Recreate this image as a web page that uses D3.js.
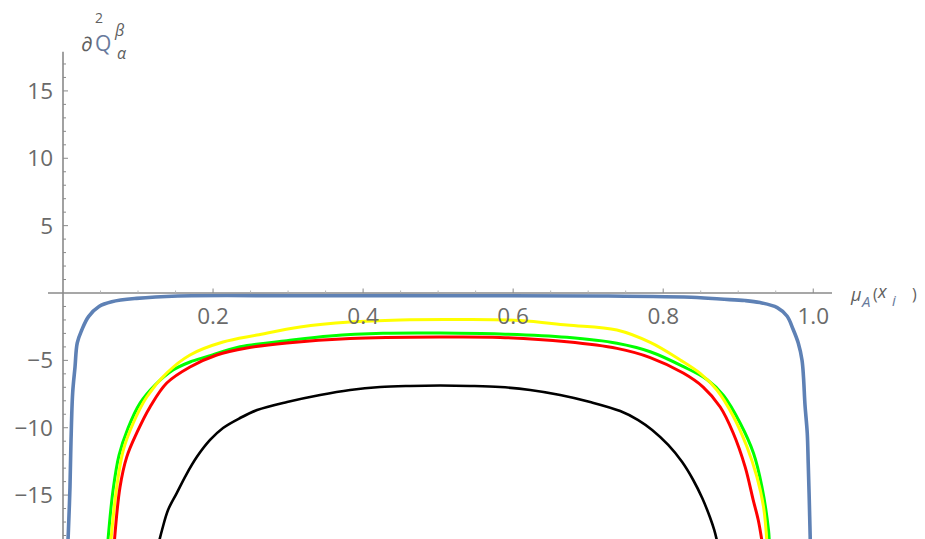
<!DOCTYPE html>
<html>
<head>
<meta charset="utf-8">
<script src="https://cdn.jsdelivr.net/npm/d3@7"></script>
<style>
  html, body { margin: 0; padding: 0; background: #fff; }
  svg { display: block; }
  .tick-label { font-family: "Open Sans", sans-serif; font-size: 22.5px; fill: #6a6a6a; }
  .axis-label { font-family: "Open Sans", sans-serif; fill: #606060; }
</style>
</head>
<body>
<svg id="chart" width="925" height="539"></svg>
<script>
// Curve samples: [membership value, second derivative]
const blueCurve = [
  [0.0067, -18.3], [0.0071, -17.8], [0.0093, -14.4], [0.0107, -10.9], [0.0129, -7.4],
  [0.016, -5.5], [0.019, -3.7], [0.025, -2.75], [0.034, -1.75], [0.048, -1.0],
  [0.065, -0.65], [0.098, -0.4], [0.153, -0.22], [0.316, -0.2], [0.516, -0.2],
  [0.716, -0.22], [0.845, -0.33], [0.876, -0.45], [0.909, -0.56], [0.929, -0.71],
  [0.952, -1.08], [0.965, -1.71], [0.973, -2.67], [0.98, -3.71], [0.985, -4.97],
  [0.987, -6.24], [0.989, -8.31], [0.992, -10.39], [0.9933, -12.62], [0.9947, -15.37],
  [0.996, -18.3]
];

const yellowCurve = [
  [0.064, -18.3], [0.0716, -14.4], [0.0804, -11.66], [0.0937, -9.65], [0.1116, -7.72],
  [0.1383, -5.94], [0.1693, -4.6], [0.2133, -3.64], [0.2587, -3.12], [0.316, -2.52],
  [0.3827, -2.15], [0.4493, -2.0], [0.5293, -1.97], [0.6093, -2.04], [0.6716, -2.38],
  [0.7383, -2.75], [0.7827, -3.67], [0.8227, -4.97], [0.8493, -5.97], [0.8716, -7.2],
  [0.8937, -9.18], [0.9116, -11.41], [0.9249, -13.64], [0.9337, -15.86], [0.938, -18.3]
];

const greenCurve = [
  [0.06, -18.3], [0.0667, -14.63], [0.0747, -12.03], [0.0867, -10.02], [0.1027, -8.17],
  [0.1227, -6.83], [0.1467, -5.72], [0.1693, -5.12], [0.1916, -4.73], [0.236, -3.99],
  [0.2983, -3.54], [0.356, -3.19], [0.4267, -2.99], [0.5027, -2.97], [0.5827, -3.04],
  [0.6716, -3.29], [0.7383, -3.73], [0.7827, -4.36], [0.8271, -5.47], [0.8583, -6.42],
  [0.8804, -7.61], [0.9027, -9.67], [0.9204, -11.9], [0.9316, -14.38], [0.9404, -17.6],
  [0.9413, -18.3]
];

const redCurve = [
  [0.0687, -18.3], [0.076, -14.4], [0.0849, -12.18], [0.0983, -10.39], [0.116, -8.46],
  [0.1383, -6.68], [0.1693, -5.49], [0.2049, -4.6], [0.2449, -4.08], [0.2983, -3.71],
  [0.3827, -3.38], [0.5027, -3.27], [0.5827, -3.3], [0.6716, -3.62], [0.7383, -4.11],
  [0.7827, -4.79], [0.8267, -5.94], [0.8533, -6.98], [0.876, -8.46], [0.8933, -10.39],
  [0.9093, -12.92], [0.92, -15.37], [0.9267, -16.85], [0.9313, -18.3]
];

const blackCurve = [
  [0.1287, -18.3], [0.132, -17.59], [0.14, -16.11], [0.1516, -14.85], [0.164, -13.51],
  [0.1783, -12.18], [0.196, -10.91], [0.2133, -10.02], [0.236, -9.28], [0.2587, -8.69],
  [0.2987, -8.09], [0.3427, -7.57], [0.3827, -7.2], [0.4227, -6.98], [0.4627, -6.9],
  [0.5027, -6.87], [0.5427, -6.9], [0.5827, -6.98], [0.6227, -7.2], [0.6627, -7.57],
  [0.7027, -8.09], [0.7427, -8.76], [0.7667, -9.43], [0.7853, -10.17], [0.8067, -11.28],
  [0.8253, -12.55], [0.84, -13.88], [0.852, -15.22], [0.8627, -16.7], [0.868, -17.59],
  [0.8713, -18.3]
];

const xTickValues = [0.2, 0.4, 0.6, 0.8, 1.0];
const xTickLabels = ["0.2", "0.4", "0.6", "0.8", "1.0"];
const yTickValues = [-15, -10, -5, 5, 10, 15];
const yTickLabels = ["\u221215", "\u221210", "\u22125", "5", "10", "15"];

const seriesList = [
  { data: blueCurve,   color: "#5e81b5", width: 3.6 },
  { data: yellowCurve, color: "#ffff00", width: 3 },
  { data: greenCurve,  color: "#00ff00", width: 3 },
  { data: redCurve,    color: "#ff0000", width: 3 },
  { data: blackCurve,  color: "#000000", width: 2.6 }
];
// green goes under yellow so the yellow crest stays on top
const drawOrder = [0, 2, 1, 3, 4];

const svg = d3.select("#chart");
const x = d3.scaleLinear().domain([-0.02, 1.025]).range([48, 832]);
const y = d3.scaleLinear().domain([-18.2, 18]).range([538.2, 50.5]);

const axisColor = "#8a8a8a";

svg.append("clipPath").attr("id", "plot-clip")
  .append("rect").attr("x", 48).attr("y", 40).attr("width", 800).attr("height", 499);

// curves
const line = d3.line()
  .x(d => x(d[0]))
  .y(d => y(d[1]))
  .curve(d3.curveCatmullRom.alpha(0.5));

const curves = svg.append("g").attr("clip-path", "url(#plot-clip)");
drawOrder.forEach(i => {
  const s = seriesList[i];
  curves.append("path")
    .datum(s.data)
    .attr("fill", "none")
    .attr("stroke", s.color)
    .attr("stroke-width", s.width)
    .attr("stroke-linejoin", "round")
    .attr("d", line);
});

// axis lines
const axes = svg.append("g");
axes.append("line")
  .attr("x1", x(-0.02)).attr("x2", x(1.025))
  .attr("y1", y(0)).attr("y2", y(0))
  .attr("stroke", axisColor).attr("stroke-width", 1.6);
axes.append("line")
  .attr("x1", x(0)).attr("x2", x(0))
  .attr("y1", y(17.9)).attr("y2", 539)
  .attr("stroke", axisColor).attr("stroke-width", 1.6);

// x ticks
const xMinor = d3.range(1, 21).map(i => i * 0.05).filter(v => !xTickValues.some(t => Math.abs(t - v) < 1e-6));
axes.selectAll(".xminor").data(xMinor).join("line")
  .attr("x1", d => x(d)).attr("x2", d => x(d))
  .attr("y1", y(0)).attr("y2", y(0) - 2.5)
  .attr("stroke", "#b5b5b5").attr("stroke-width", 1);
axes.selectAll(".xmajor").data(xTickValues).join("line")
  .attr("x1", d => x(d)).attr("x2", d => x(d))
  .attr("y1", y(0)).attr("y2", y(0) - 4.5)
  .attr("stroke", axisColor).attr("stroke-width", 1);
axes.selectAll(".xlabel").data(xTickValues).join("text")
  .attr("class", "tick-label")
  .attr("x", d => x(d)).attr("y", 324)
  .attr("text-anchor", "middle")
  .text((d, i) => xTickLabels[i]);

// y ticks
const yMinor = d3.range(-18, 18).filter(v => v !== 0 && v % 5 !== 0);
axes.selectAll(".yminor").data(yMinor).join("line")
  .attr("x1", x(0)).attr("x2", x(0) + 3)
  .attr("y1", d => y(d)).attr("y2", d => y(d))
  .attr("stroke", axisColor).attr("stroke-width", 1);
axes.selectAll(".ymajor").data(yTickValues).join("line")
  .attr("x1", x(0)).attr("x2", x(0) + 5)
  .attr("y1", d => y(d)).attr("y2", d => y(d))
  .attr("stroke", axisColor).attr("stroke-width", 1);
axes.selectAll(".ylabel").data(yTickValues).join("text")
  .attr("class", "tick-label")
  .attr("x", 53).attr("y", d => y(d))
  .attr("dy", "0.36em")
  .attr("text-anchor", "end")
  .text((d, i) => yTickLabels[i]);

// y-axis label: ∂²Q with β superscript and α subscript
const yl = svg.append("g").attr("class", "axis-label");
yl.append("text").attr("x", 99).attr("y", 23).attr("text-anchor", "middle")
  .style("font-size", "14px").text("2");
yl.append("text").attr("x", 81).attr("y", 51).style("font-size", "20px")
  .style("font-style", "italic").text("\u2202");
yl.append("text").attr("x", 95).attr("y", 51).style("font-size", "21px")
  .style("fill", "#687a9c").text("Q");
yl.append("text").attr("x", 115).attr("y", 36).style("font-size", "16px")
  .style("font-style", "italic").text("\u03B2");
yl.append("text").attr("x", 117).attr("y", 59).style("font-size", "16px")
  .style("font-style", "italic").text("\u03B1");

// x-axis label: μ_A(x_i)
const xl = svg.append("g").attr("class", "axis-label");
xl.append("text").attr("x", 851).attr("y", 301).style("font-size", "18px")
  .style("font-style", "italic").text("\u03BC");
xl.append("text").attr("x", 862).attr("y", 307).style("font-size", "15px")
  .style("font-style", "italic").style("fill", "#687a9c").text("A");
xl.append("text").attr("x", 873).attr("y", 300).style("font-size", "16px").text("(");
xl.append("text").attr("x", 878).attr("y", 298).style("font-size", "18px")
  .style("font-style", "italic").text("x");
xl.append("text").attr("x", 892).attr("y", 306).style("font-size", "15px")
  .style("font-style", "italic").style("fill", "#687a9c").text("i");
xl.append("text").attr("x", 912).attr("y", 300).style("font-size", "16px").text(")");
</script>
</body>
</html>
